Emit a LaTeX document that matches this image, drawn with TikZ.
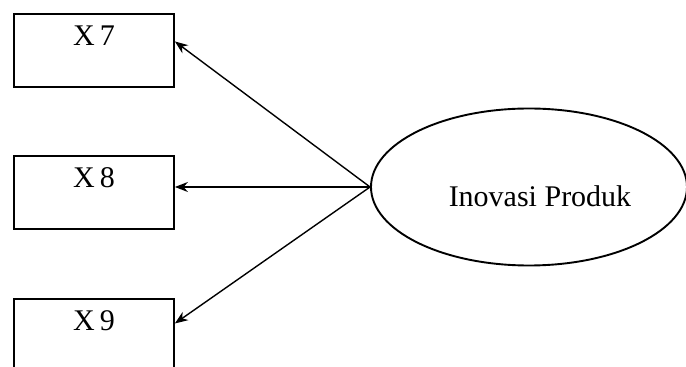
\documentclass[tikz,border=0pt]{standalone}
\usepackage{fontspec}
\setmainfont{Liberation Serif}
\usetikzlibrary{shapes.geometric,arrows.meta}
\begin{document}
\begin{tikzpicture}[x=1pt,y=1pt,
  ind/.style={draw, line width=1.9pt, rectangle, inner sep=0pt, minimum width=160pt,
    text height=32pt, text depth=41pt, anchor=north west, font=\fontsize{30}{36}\selectfont},
  lat/.style={draw, line width=1.9pt, ellipse, inner sep=0pt, minimum width=316pt, minimum height=157pt},
  arr/.style={line width=1.4pt, -{Stealth[length=13pt,width=10pt]}}]
\useasboundingbox (0,0) rectangle (686,367);
\clip (0,0) rectangle (686,367);
\node[ind] (x7) at (13,354) {X\,7};
\node[ind] (x8) at (13,212) {X\,8};
\node[ind] (x9) at (13,69) {X\,9};
\node[lat] (ell) at (529,180) {};
\node[anchor=base, inner sep=0pt, font=\fontsize{30}{36}\selectfont] (lbl) at ([xshift=11pt,yshift=-20pt]ell.center) {Inovasi Produk};
\draw[arr] (ell.west) -- ([yshift=9pt]x7.east);
\draw[arr] (ell.west) -- (ell.west -| x8.east);
\draw[arr] (ell.west) -- ([yshift=12pt]x9.east);
\end{tikzpicture}
\end{document}
